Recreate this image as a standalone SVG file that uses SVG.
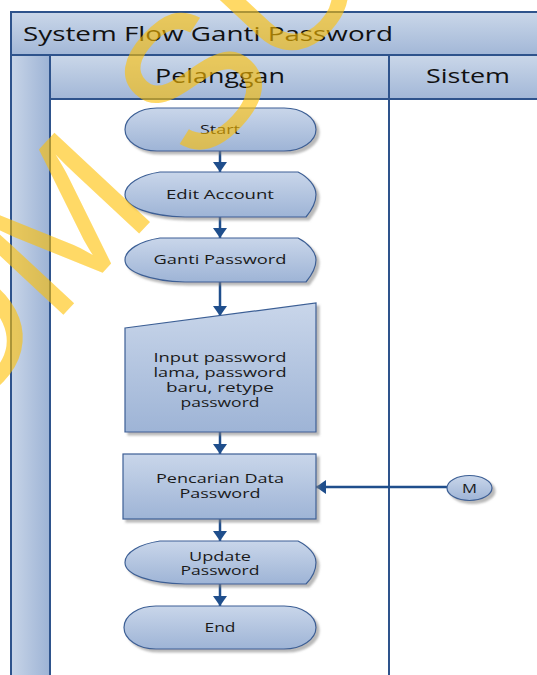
<svg xmlns="http://www.w3.org/2000/svg" width="537" height="675" viewBox="0 0 537 675">
  <defs>
    <linearGradient id="bandGrad" x1="0" y1="0" x2="0" y2="1">
      <stop offset="0" stop-color="#CAD7E9"/>
      <stop offset="1" stop-color="#A2B7D7"/>
    </linearGradient>
    <linearGradient id="sideGrad" x1="0" y1="0" x2="1" y2="0">
      <stop offset="0" stop-color="#C8D5E8"/>
      <stop offset="1" stop-color="#9DB3D5"/>
    </linearGradient>
    <linearGradient id="shapeGrad" x1="0" y1="0" x2="0" y2="1">
      <stop offset="0" stop-color="#C9D6EA"/>
      <stop offset="1" stop-color="#9EB4D6"/>
    </linearGradient>
    <filter id="shadow" x="-10%" y="-10%" width="125%" height="130%">
      <feDropShadow dx="3" dy="3" stdDeviation="1" flood-color="#7F7F7F" flood-opacity="0.55"/>
    </filter>
    <marker id="arrow" viewBox="0 0 10 14" refX="10" refY="7" markerWidth="10" markerHeight="14" markerUnits="userSpaceOnUse" orient="auto">
      <path d="M0,0 L10,7 L0,14 Z" fill="#1F4E8C"/>
    </marker>
  </defs>
  <style>
    .frame { stroke: #2E538C; stroke-width: 2; fill: none; }
    .band { fill: url(#bandGrad); }
    .shape { fill: url(#shapeGrad); stroke: #3C5F95; stroke-width: 1.2; filter: url(#shadow); }
    .lbl { font-family: "Open Sans", "Liberation Sans", sans-serif; font-size: 13.5px; fill: #1A1A1A; text-anchor: middle; }
    .hdr { font-family: "Open Sans", "Liberation Sans", sans-serif; font-size: 20.5px; fill: #111111; }
    .flow { stroke: #1F4E8C; stroke-width: 2.5; fill: none; marker-end: url(#arrow); }
    .mark { font-family: "Liberation Sans", "Arial", sans-serif; font-size: 190px; fill: #FFC000; fill-opacity: 0.6; }
  </style>

  <rect width="537" height="675" fill="#FFFFFF"/>

  <!-- swimlane pool -->
  <g id="pool">
    <rect class="band" x="11" y="12" width="540" height="43"/>
    <rect class="band" x="50" y="55" width="500" height="44"/>
    <rect x="11" y="55" width="39" height="630" fill="url(#sideGrad)"/>
    <path class="frame" d="M11,685 V12 H545 M11,55 H545 M50,99 H545 M50,55 V685 M389,55 V685"/>
    <text class="hdr" x="23" y="41" textLength="370" lengthAdjust="spacingAndGlyphs">System Flow Ganti Password</text>
    <text class="hdr" x="220" y="83" text-anchor="middle" textLength="130" lengthAdjust="spacingAndGlyphs">Pelanggan</text>
    <text class="hdr" x="468" y="83" text-anchor="middle" textLength="84" lengthAdjust="spacingAndGlyphs">Sistem</text>
  </g>

  <!-- connectors -->
  <g id="connectors">
    <path class="flow" d="M220,151 V172"/>
    <path class="flow" d="M220,217 V238"/>
    <path class="flow" d="M220,282 V316"/>
    <path class="flow" d="M220,432 V454"/>
    <path class="flow" d="M220,519 V541"/>
    <path class="flow" d="M220,584 V606"/>
    <path class="flow" d="M447,487 H316"/>
  </g>

  <g id="start">
    <rect class="shape" x="125" y="108" width="191" height="43" rx="32" ry="21.5"/>
    <text class="lbl" x="220" y="134" textLength="40" lengthAdjust="spacingAndGlyphs">Start</text>
  </g>

  <g id="edit-account">
    <path class="shape" d="M160,172 H298 C308,177 316,186 316,194.5 C316,203 311,211 306,217 H185 C150,216 125,207 125,194.5 C125,184 140,175 160,172 Z"/>
    <text class="lbl" x="220" y="199" textLength="108" lengthAdjust="spacingAndGlyphs">Edit Account</text>
  </g>

  <g id="ganti-password">
    <path class="shape" d="M160,238 H298 C308,243 316,252 316,260 C316,268 311,276 306,282 H185 C150,281 125,272 125,260 C125,250 140,241 160,238 Z"/>
    <text class="lbl" x="220" y="264" textLength="133" lengthAdjust="spacingAndGlyphs">Ganti Password</text>
  </g>

  <g id="input-password">
    <path class="shape" d="M125,328 L316,303 V432 H125 Z"/>
    <text class="lbl" x="220" y="362" textLength="133" lengthAdjust="spacingAndGlyphs">Input password</text>
    <text class="lbl" x="220" y="377" textLength="133" lengthAdjust="spacingAndGlyphs">lama, password</text>
    <text class="lbl" x="220" y="392" textLength="108" lengthAdjust="spacingAndGlyphs">baru, retype</text>
    <text class="lbl" x="220" y="407" textLength="79" lengthAdjust="spacingAndGlyphs">password</text>
  </g>

  <g id="pencarian-data">
    <rect class="shape" x="123" y="454" width="193" height="65"/>
    <text class="lbl" x="220" y="483" textLength="128" lengthAdjust="spacingAndGlyphs">Pencarian Data</text>
    <text class="lbl" x="220" y="498" textLength="81" lengthAdjust="spacingAndGlyphs">Password</text>
  </g>

  <g id="update-password">
    <path class="shape" d="M160,541 H298 C308,546 316,554 316,562.5 C316,571 311,579 306,584 H185 C150,583 125,575 125,562.5 C125,552 140,544 160,541 Z"/>
    <text class="lbl" x="220" y="561" textLength="62" lengthAdjust="spacingAndGlyphs">Update</text>
    <text class="lbl" x="220" y="575" textLength="79" lengthAdjust="spacingAndGlyphs">Password</text>
  </g>

  <g id="end">
    <rect class="shape" x="124" y="606" width="192" height="43" rx="32" ry="21.5"/>
    <text class="lbl" x="220" y="632" textLength="31" lengthAdjust="spacingAndGlyphs">End</text>
  </g>

  <g id="connector-m">
    <ellipse class="shape" cx="469.5" cy="488" rx="22.5" ry="12.5"/>
    <text class="lbl" x="469.5" y="493" font-size="13" textLength="15" lengthAdjust="spacingAndGlyphs">M</text>
  </g>

  <!-- diagonal watermark -->
  <g id="watermark">
    <text class="mark" transform="translate(53,326) rotate(-47)" x="-148" y="0">OM SU</text>
  </g>
</svg>
